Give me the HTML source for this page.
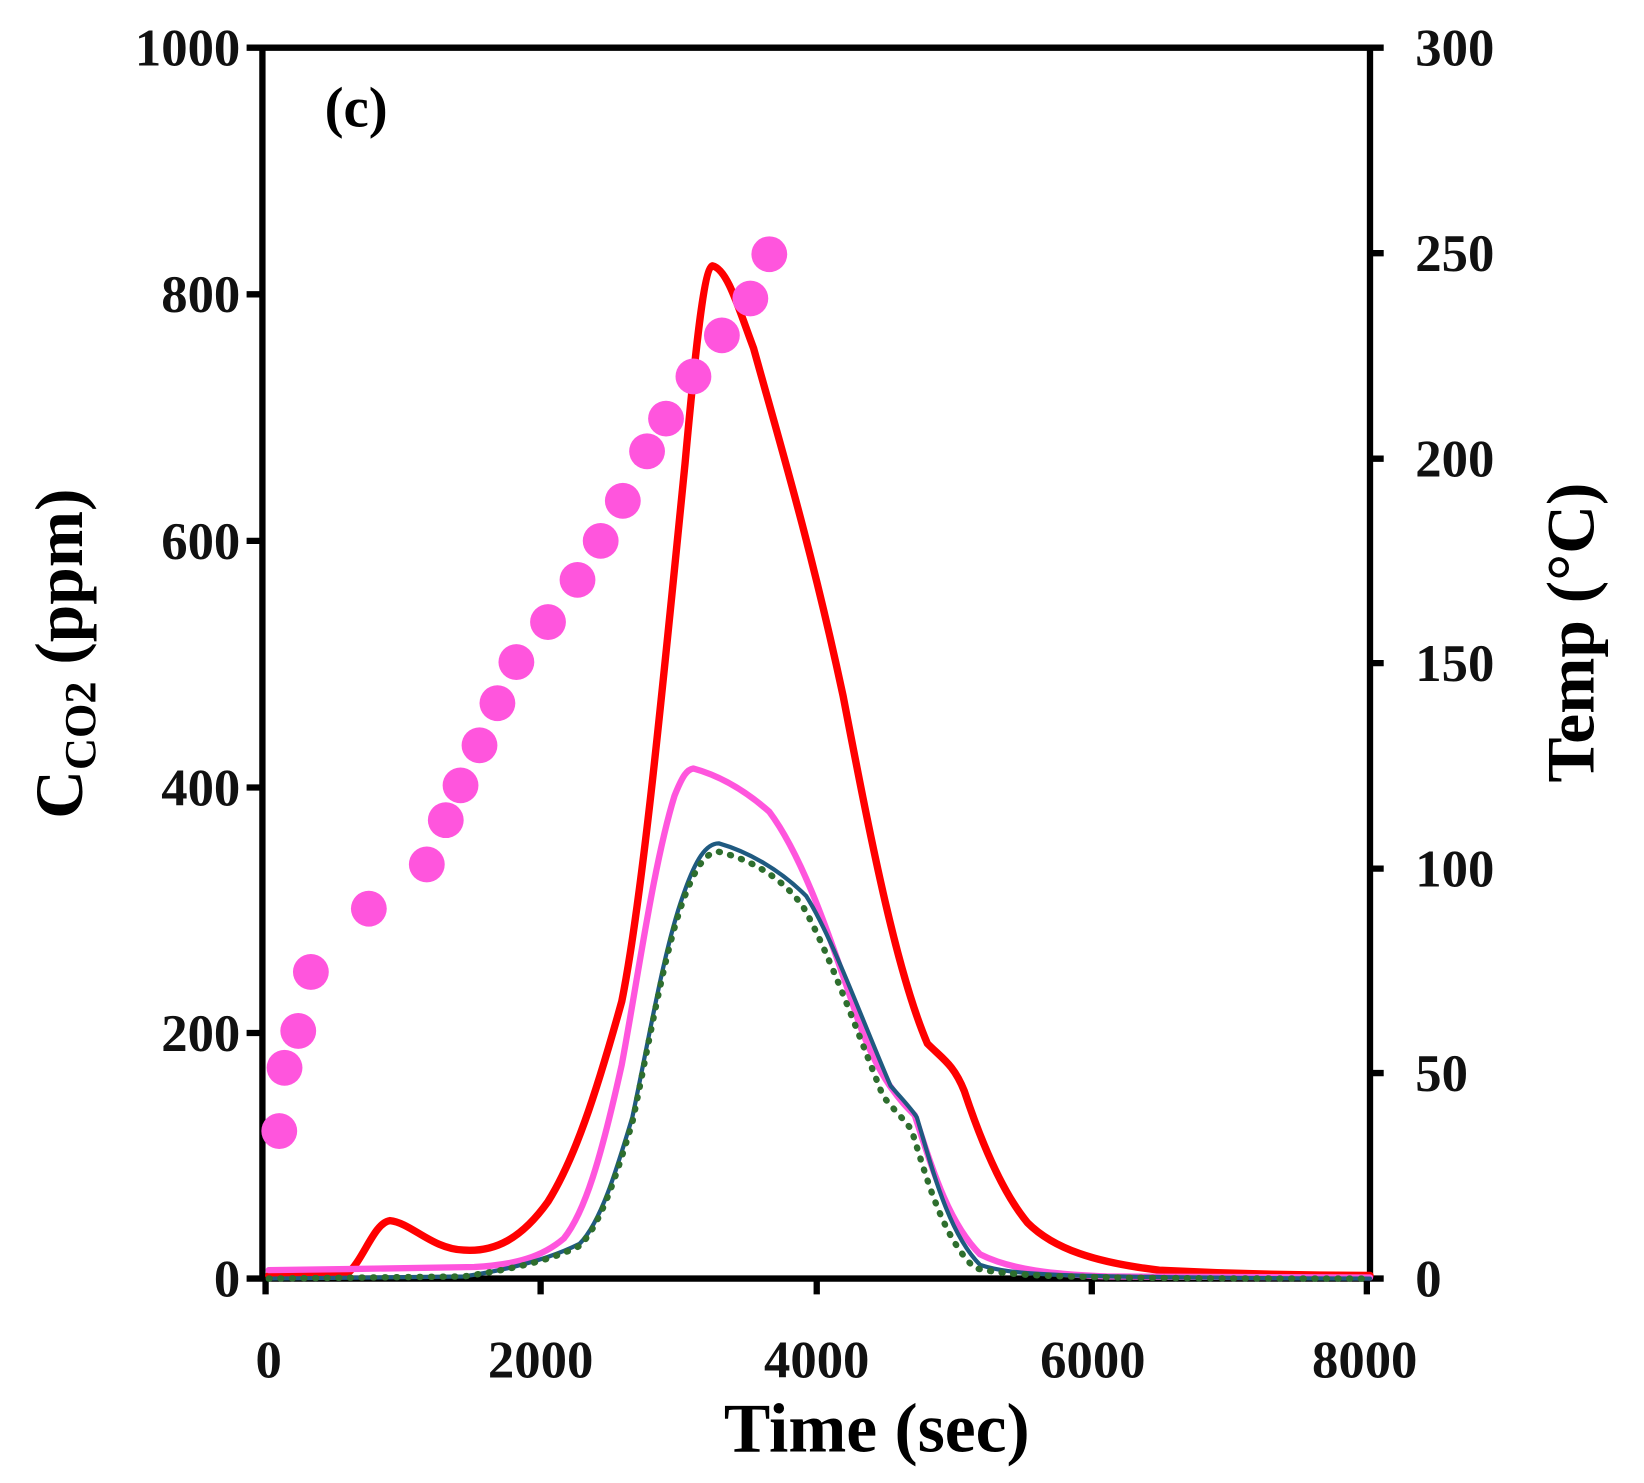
<!DOCTYPE html>
<html><head><meta charset="utf-8"><style>html,body{margin:0;padding:0;background:#fff}</style></head>
<body>
<svg width="1644" height="1478" viewBox="0 0 1560 1402" xmlns="http://www.w3.org/2000/svg" font-family="'Liberation Serif', serif" font-weight="bold">
<rect width="1560" height="1402" fill="#fff"/>
<g stroke="#000" stroke-width="6" fill="none">
<line x1="234" y1="45" x2="1313" y2="45"/>
<line x1="234" y1="1213" x2="1313" y2="1213"/>
<line x1="249" y1="45" x2="249" y2="1213"/>
<line x1="1300" y1="45" x2="1300" y2="1213"/>
<path d="M234 279H249M234 513H249M234 747H249M234 980H249"/>
<path d="M1300 240H1313M1300 435H1313M1300 629H1313M1300 824H1313M1300 1018H1313"/>
<path d="M252 1213V1228M513 1213V1228M775 1213V1228M1036 1213V1228M1297 1213V1228"/>
</g>
<g font-size="50" text-anchor="end" fill="#111">
<text x="228" y="62">1000</text><text x="228" y="296">800</text><text x="228" y="530">600</text><text x="228" y="764">400</text><text x="228" y="997">200</text><text x="228" y="1230">0</text>
</g>
<g font-size="50" text-anchor="start" fill="#111">
<text x="1343" y="62">300</text><text x="1343" y="257">250</text><text x="1343" y="452">200</text><text x="1343" y="646">150</text><text x="1343" y="841">100</text><text x="1343" y="1035">50</text><text x="1343" y="1230">0</text>
</g>
<g font-size="50" text-anchor="middle" fill="#111">
<text x="255" y="1307">0</text><text x="513" y="1307">2000</text><text x="775" y="1307">4000</text><text x="1037" y="1307">6000</text><text x="1295" y="1307">8000</text>
</g>
<text x="832" y="1377" font-size="66" text-anchor="middle">Time (sec)</text>
<text x="338" y="120" font-size="54" text-anchor="middle">(c)</text>
<text transform="translate(78,620) rotate(-90)" font-size="64" text-anchor="middle">C<tspan font-size="42" dy="12">CO2</tspan><tspan dy="-12"> (ppm)</tspan></text>
<text transform="translate(1512,600) rotate(-90)" font-size="64" text-anchor="middle">Temp (°C)</text>
<g fill="none" stroke-linejoin="round" stroke-linecap="round">
<path stroke="#ff0000" stroke-width="7" d="M255 1210 L330 1208 C345 1195 355 1160 370 1158 C390 1160 410 1185 440 1186 C470 1188 495 1175 520 1140 C545 1100 565 1040 590 950 C610 850 630 640 650 440 C660 330 668 255 676 252 C690 255 700 290 715 330 C740 420 770 520 800 660 C825 790 850 920 880 990 C895 1005 905 1010 915 1035 C930 1080 950 1130 975 1160 C1000 1185 1040 1198 1100 1205 C1180 1209 1250 1210 1300 1210"/>
<path stroke="#ff55dd" stroke-width="6" d="M255 1205 L330 1204 L450 1202 C490 1200 515 1192 535 1175 C555 1150 570 1100 590 1010 C605 930 620 820 640 755 C648 735 652 730 658 729 C680 735 705 748 730 770 C760 810 785 880 815 970 C835 1025 855 1045 868 1058 C885 1110 900 1160 930 1190 C960 1205 1000 1209 1050 1211 L1300 1212"/>
<path stroke="#1f5a80" stroke-width="4" d="M255 1213 L440 1211 C480 1205 520 1195 550 1180 C570 1160 585 1110 600 1060 C615 990 630 900 648 850 C660 815 670 800 682 800 C710 808 740 825 765 850 C790 890 815 960 845 1030 C858 1045 865 1052 870 1060 C885 1110 900 1170 930 1200 C960 1210 1000 1212 1300 1213"/>
<path stroke="#2e6e2e" stroke-width="6" stroke-dasharray="1 10" d="M255 1213 L440 1211 C480 1205 520 1197 550 1182 C570 1162 585 1115 600 1065 C615 995 630 905 648 855 C660 822 670 808 682 808 C710 815 740 830 762 860 C785 900 810 970 838 1040 C850 1055 858 1062 865 1072 C880 1120 895 1175 925 1203 C960 1211 1000 1213 1300 1213"/>
</g>
<g fill="#ff55dd">
<circle cx="265" cy="1073" r="17"/><circle cx="270" cy="1013" r="17"/><circle cx="283" cy="978" r="17"/><circle cx="295" cy="922" r="17"/><circle cx="350" cy="862" r="17"/><circle cx="405" cy="820" r="17"/><circle cx="423" cy="778" r="17"/><circle cx="437" cy="745" r="17"/><circle cx="455" cy="707" r="17"/><circle cx="472" cy="667" r="17"/><circle cx="490" cy="628" r="17"/><circle cx="520" cy="590" r="17"/><circle cx="548" cy="550" r="17"/><circle cx="570" cy="513" r="17"/><circle cx="591" cy="475" r="17"/><circle cx="614" cy="428" r="17"/><circle cx="632" cy="397" r="17"/><circle cx="658" cy="357" r="17"/><circle cx="685" cy="318" r="17"/><circle cx="712" cy="283" r="17"/><circle cx="730" cy="241" r="17"/>
</g>
</svg>
</body></html>
